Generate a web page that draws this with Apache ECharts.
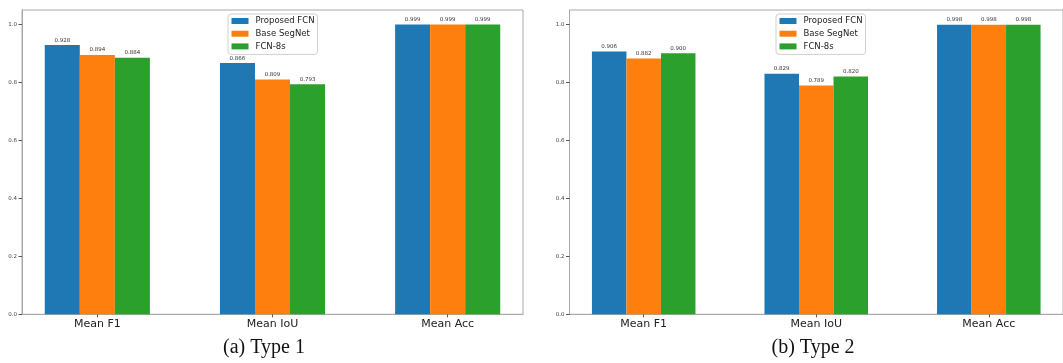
<!DOCTYPE html>
<html>
<head>
<meta charset="utf-8">
<script src="https://cdn.jsdelivr.net/npm/echarts@6/dist/echarts.min.js"></script>
<style>
html,body{margin:0;padding:0;background:#fff;}
#chart{width:1063px;height:363px;}
</style>
</head>
<body>
<div id="chart"></div>
<script>
// ---- data ----
const categories = ['Mean F1', 'Mean IoU', 'Mean Acc'];
const seriesNames = ['Proposed FCN', 'Base SegNet', 'FCN-8s'];
const type1Proposed = [0.928, 0.866, 0.999];
const type1SegNet   = [0.894, 0.809, 0.999];
const type1FCN8s    = [0.884, 0.793, 0.999];
const type2Proposed = [0.906, 0.829, 0.998];
const type2SegNet   = [0.882, 0.789, 0.998];
const type2FCN8s    = [0.900, 0.820, 0.998];
const yTicks = [0.0, 0.2, 0.4, 0.6, 0.8, 1.0];
const captions = ['(a) Type 1', '(b) Type 2'];
const colors = ['#1f77b4', '#ff7f0e', '#2ca02c'];

const chart = echarts.init(document.getElementById('chart'), null, {renderer: 'canvas'});
const font = 'DejaVu Sans';
const frameColor = '#a8a8a8';
const catIdx = categories.map((c, i) => i);

function xAxis(gi) {
  return {
    type: 'value', gridIndex: gi, min: -0.43, max: 2.43,
    axisLine: {show: true, onZero: false, lineStyle: {color: frameColor, width: 1}},
    axisTick: {show: true, customValues: catIdx, length: 3, lineStyle: {color: '#555'}},
    axisLabel: {customValues: catIdx, formatter: v => categories[Math.round(v)],
      fontFamily: font, fontSize: 11, color: '#222', margin: 4},
    splitLine: {show: false}
  };
}
function yAxis(gi) {
  return {
    type: 'value', gridIndex: gi, min: 0, max: 1.049,
    axisLine: {show: true, onZero: false, lineStyle: {color: frameColor, width: 1}},
    axisTick: {show: true, customValues: yTicks, length: 3.5, lineStyle: {color: '#555'}},
    axisLabel: {customValues: yTicks, formatter: v => v.toFixed(1),
      fontFamily: font, fontSize: 5.5, color: '#444', margin: 5},
    splitLine: {show: false}
  };
}
function legend(left) {
  return {
    orient: 'vertical', left: left, top: 14,
    data: seriesNames, icon: 'rect', itemWidth: 17, itemHeight: 6, itemGap: 2.7,
    padding: [2, 3, 3, 3.5],
    textStyle: {fontFamily: font, fontSize: 8.5, lineHeight: 10, color: '#222', padding: [0, 0, 0, 2]},
    borderColor: '#d0d0d0', borderWidth: 1, borderRadius: 3, backgroundColor: '#fff',
    selectedMode: false
  };
}
function barSeries(name, vals, gi, ci) {
  return {
    type: 'bar', name: name, xAxisIndex: gi, yAxisIndex: gi,
    data: vals.map((v, i) => [i, v]),
    barWidth: '20%', barGap: '0%',
    itemStyle: {color: colors[ci]},
    label: {show: true, position: 'top', distance: 2,
      formatter: p => p.value[1].toFixed(3),
      fontFamily: font, fontSize: 5.5, color: '#333'}
  };
}

const option = {
  animation: false,
  backgroundColor: '#fff',
  grid: [
    {left: 22, top: 10, width: 501, height: 304.3, show: true, borderColor: frameColor, borderWidth: 1, containLabel: false},
    {left: 569.5, top: 10, width: 501, height: 304.3, show: true, borderColor: frameColor, borderWidth: 1, containLabel: false}
  ],
  xAxis: [xAxis(0), xAxis(1)],
  yAxis: [yAxis(0), yAxis(1)],
  legend: [legend(228), legend(776)],
  series: [
    barSeries(seriesNames[0], type1Proposed, 0, 0),
    barSeries(seriesNames[1], type1SegNet, 0, 1),
    barSeries(seriesNames[2], type1FCN8s, 0, 2),
    barSeries(seriesNames[0], type2Proposed, 1, 0),
    barSeries(seriesNames[1], type2SegNet, 1, 1),
    barSeries(seriesNames[2], type2FCN8s, 1, 2)
  ],
  graphic: [
    {type: 'text', x: 264, y: 348, style: {text: captions[0], textAlign: 'center', textVerticalAlign: 'middle',
      font: '20px "Liberation Serif"', fill: '#111'}},
    {type: 'text', x: 813, y: 348, style: {text: captions[1], textAlign: 'center', textVerticalAlign: 'middle',
      font: '20px "Liberation Serif"', fill: '#111'}}
  ]
};
chart.setOption(option);
</script>
</body>
</html>
